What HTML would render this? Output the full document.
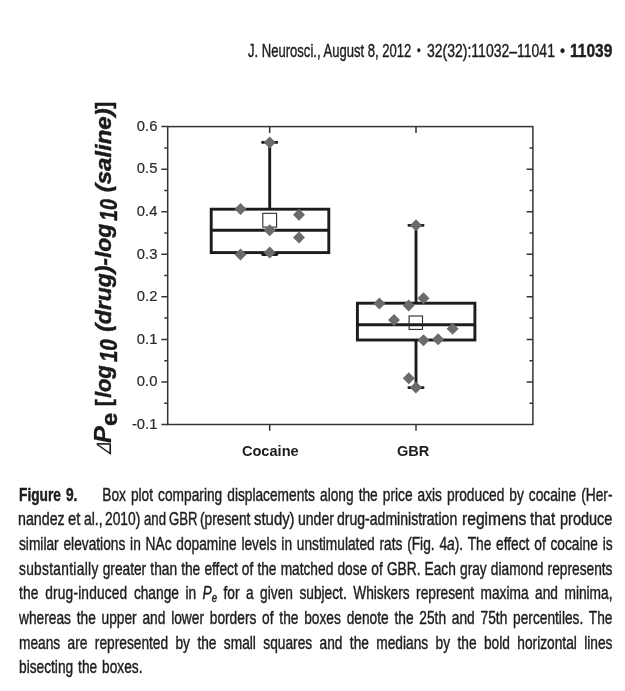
<!DOCTYPE html>
<html lang="en"><head><meta charset="utf-8"><title>Figure 9</title>
<style>
html,body{margin:0;padding:0;background:#fff;}
body{width:625px;height:691px;position:relative;overflow:hidden;will-change:transform;font-family:"Liberation Sans",sans-serif;color:#1d1d1d;}
svg{position:absolute;left:0;top:0;}
svg text{font-family:"Liberation Sans",sans-serif;}
.ln{-webkit-text-stroke:0.42px #1d1d1d;position:absolute;left:18.7px;white-space:nowrap;font-size:17.8px;line-height:0;height:0;transform-origin:0 0;transform:scaleX(0.772);}
.ln b{font-weight:bold;}
.ln .w{position:absolute;top:0;white-space:nowrap;transform-origin:0 0;line-height:0;}
.ln sub{font-size:0.7em;vertical-align:baseline;position:relative;top:0.25em;line-height:0;}
.hd{-webkit-text-stroke:0.4px #1d1d1d;position:absolute;white-space:nowrap;font-size:17.5px;line-height:0;height:0;top:51.2px;transform-origin:0 0;}
</style></head><body>
<div class="hd" id="h1" style="left:248.4px;transform:scaleX(0.746)">J. Neurosci., August 8, 2012</div>
<div class="hd" id="h2" style="left:417.1px;transform:scaleX(0.8);font-size:13px">•</div>
<div class="hd" id="h3" style="left:426.7px;transform:scaleX(0.800)">32(32):11032–11041</div>
<div class="hd" id="h4" style="left:560.0px;transform:scaleX(0.85);font-size:17px">•</div>
<div class="hd" id="h5" style="left:570.4px;transform:scaleX(0.886);font-weight:bold">11039</div>
<svg width="625" height="691" viewBox="0 0 625 691">
<rect x="167.7" y="126.6" width="365.2" height="297.9" fill="none" stroke="#343434" stroke-width="1.5"/>
<path d="M161.4 424.5H167.7 M164.3 403.2H167.7 M529.5 403.2H532.9 M161.4 381.9H167.7 M526.6 381.9H532.9 M164.3 360.7H167.7 M529.5 360.7H532.9 M161.4 339.4H167.7 M526.6 339.4H532.9 M164.3 318.1H167.7 M529.5 318.1H532.9 M161.4 296.8H167.7 M526.6 296.8H532.9 M164.3 275.6H167.7 M529.5 275.6H532.9 M161.4 254.3H167.7 M526.6 254.3H532.9 M164.3 233.0H167.7 M529.5 233.0H532.9 M161.4 211.7H167.7 M526.6 211.7H532.9 M164.3 190.4H167.7 M529.5 190.4H532.9 M161.4 169.2H167.7 M526.6 169.2H532.9 M164.3 147.9H167.7 M529.5 147.9H532.9 M161.4 126.6H167.7 M269.7 424.5V430.8 M269.7 126.6V132.9 M416.0 424.5V430.8 M416.0 126.6V132.9" stroke="#343434" stroke-width="1.5" fill="none"/>
<text x="157.4" y="428.7" text-anchor="end" font-size="14.8" fill="#2b2b2b" stroke="#2b2b2b" stroke-width="0.2">-0.1</text>
<text x="157.4" y="386.1" text-anchor="end" font-size="14.8" fill="#2b2b2b" stroke="#2b2b2b" stroke-width="0.2">0.0</text>
<text x="157.4" y="343.6" text-anchor="end" font-size="14.8" fill="#2b2b2b" stroke="#2b2b2b" stroke-width="0.2">0.1</text>
<text x="157.4" y="301.0" text-anchor="end" font-size="14.8" fill="#2b2b2b" stroke="#2b2b2b" stroke-width="0.2">0.2</text>
<text x="157.4" y="258.5" text-anchor="end" font-size="14.8" fill="#2b2b2b" stroke="#2b2b2b" stroke-width="0.2">0.3</text>
<text x="157.4" y="215.9" text-anchor="end" font-size="14.8" fill="#2b2b2b" stroke="#2b2b2b" stroke-width="0.2">0.4</text>
<text x="157.4" y="173.4" text-anchor="end" font-size="14.8" fill="#2b2b2b" stroke="#2b2b2b" stroke-width="0.2">0.5</text>
<text x="157.4" y="130.8" text-anchor="end" font-size="14.8" fill="#2b2b2b" stroke="#2b2b2b" stroke-width="0.2">0.6</text>
<text x="270.3" y="456.2" text-anchor="middle" font-size="14.6" font-weight="bold" fill="#1e1e1e">Cocaine</text>
<text x="413.2" y="456.2" text-anchor="middle" font-size="14.6" font-weight="bold" fill="#1e1e1e">GBR</text>
<path d="M269.7 142.4V209.2M269.7 252.6V254.6" stroke="#1c1c1c" stroke-width="2.9" fill="none"/>
<path d="M262.5 142.4H276.9M262.5 254.6H276.9" stroke="#1c1c1c" stroke-width="2.7" stroke-linecap="round" fill="none"/>
<rect x="211.2" y="209.2" width="117.6" height="43.4" fill="none" stroke="#1c1c1c" stroke-width="2.9"/>
<path d="M211.2 230.2H328.8" stroke="#1c1c1c" stroke-width="2.9"/>
<rect x="262.8" y="213.3" width="13.8" height="13.8" fill="none" stroke="#2a2a2a" stroke-width="1.1"/>
<path d="M269.7 136.4l6.0 6.0l-6.0 6.0l-6.0 -6.0z M240.5 202.9l6.0 6.0l-6.0 6.0l-6.0 -6.0z M299.0 208.8l6.0 6.0l-6.0 6.0l-6.0 -6.0z M269.7 224.2l6.0 6.0l-6.0 6.0l-6.0 -6.0z M299.0 231.6l6.0 6.0l-6.0 6.0l-6.0 -6.0z M240.5 248.4l6.0 6.0l-6.0 6.0l-6.0 -6.0z M269.7 246.6l6.0 6.0l-6.0 6.0l-6.0 -6.0z" fill="#6b6b6b"/>
<path d="M416.0 225.3V303.2M416.0 340.0V387.6" stroke="#1c1c1c" stroke-width="2.9" fill="none"/>
<path d="M408.8 225.3H423.2M408.8 387.6H423.2" stroke="#1c1c1c" stroke-width="2.7" stroke-linecap="round" fill="none"/>
<rect x="357.4" y="303.2" width="117.5" height="36.8" fill="none" stroke="#1c1c1c" stroke-width="2.9"/>
<path d="M357.4 324.7H474.9" stroke="#1c1c1c" stroke-width="2.9"/>
<rect x="409.1" y="316.0" width="13.4" height="13.4" fill="none" stroke="#2a2a2a" stroke-width="1.1"/>
<path d="M416.0 219.3l6.0 6.0l-6.0 6.0l-6.0 -6.0z M379.4 297.4l6.0 6.0l-6.0 6.0l-6.0 -6.0z M408.6 299.5l6.0 6.0l-6.0 6.0l-6.0 -6.0z M423.5 292.3l6.0 6.0l-6.0 6.0l-6.0 -6.0z M394.0 314.1l6.0 6.0l-6.0 6.0l-6.0 -6.0z M452.6 322.8l6.0 6.0l-6.0 6.0l-6.0 -6.0z M423.5 334.3l6.0 6.0l-6.0 6.0l-6.0 -6.0z M438.1 333.3l6.0 6.0l-6.0 6.0l-6.0 -6.0z M408.8 372.2l6.0 6.0l-6.0 6.0l-6.0 -6.0z M415.9 381.6l6.0 6.0l-6.0 6.0l-6.0 -6.0z" fill="#6b6b6b"/>
<g transform="translate(111,453.6) rotate(-90)" fill="#1a1a1a" stroke="#1a1a1a" stroke-width="0.45" stroke-linejoin="round">
<text transform="translate(-0.60,0) scale(0.875,1) skewX(-12)" stroke-width="0.1" font-size="20.6" font-weight="normal" font-style="italic">Δ</text>
<text transform="translate(10.40,0) scale(1.081,1)" stroke-width="0.15" font-size="23.8" font-weight="bold" font-style="italic">P</text>
<text transform="translate(27.55,6) scale(1.055,1)" font-size="22.5" font-weight="bold" font-style="normal">e</text>
<text transform="translate(47.47,0) scale(0.933,1)" font-size="22.5" font-weight="bold" font-style="normal">[</text>
<text transform="translate(55.50,0) scale(0.973,1)" font-size="22.5" font-weight="bold" font-style="italic">log</text>
<text transform="translate(91.50,6) scale(0.842,1)" font-size="24.5" font-weight="bold" font-style="italic">10</text>
<text transform="translate(121.78,0) scale(1.019,1)" font-size="22.5" font-weight="bold" font-style="italic">(drug)-log</text>
<text transform="translate(232.70,6) scale(0.809,1)" font-size="24.5" font-weight="bold" font-style="italic">10</text>
<text transform="translate(261.34,0) scale(1.065,1)" font-size="22.5" font-weight="bold" font-style="italic">(saline)</text>
<text transform="translate(344.80,0) scale(0.933,1)" font-size="22.5" font-weight="bold" font-style="normal">]</text>
</g>
</svg>
<div class="ln" id="ln0" style="top:494.6px;word-spacing:1.59px"><b style="margin-right:6px">Figure 9.</b>&nbsp;&nbsp;&nbsp;&nbsp;Box plot comparing displacements along the price axis produced by cocaine (Her-</div>
<div class="ln" id="ln1" style="top:519.3px;transform:none"><span class="w" style="left:-0.3px;transform:scaleX(0.800)">nandez</span> <span class="w" style="left:49.5px;transform:scaleX(0.835)">et</span> <span class="w" style="left:64.9px;transform:scaleX(0.779)">al.,</span> <span class="w" style="left:86.4px;transform:scaleX(0.776)">2010)</span> <span class="w" style="left:125.0px;transform:scaleX(0.740)">and</span> <span class="w" style="left:149.9px;transform:scaleX(0.740)">GBR</span> <span class="w" style="left:181.7px;transform:scaleX(0.773)">(present</span> <span class="w" style="left:235.2px;transform:scaleX(0.838)">study)</span> <span class="w" style="left:279.2px;transform:scaleX(0.789)">under</span> <span class="w" style="left:318.5px;transform:scaleX(0.790)">drug-administration</span> <span class="w" style="left:443.5px;transform:scaleX(0.880)">regimens</span> <span class="w" style="left:511.7px;transform:scaleX(0.849)">that</span> <span class="w" style="left:540.9px;transform:scaleX(0.815)">produce</span></div>
<div class="ln" id="ln2" style="top:543.9px;word-spacing:1.29px">similar elevations in NAc dopamine levels in unstimulated rats (Fig. 4<i>a</i>). The effect of cocaine is</div>
<div class="ln" id="ln3" style="top:568.6px;word-spacing:0.41px"><span style="letter-spacing:0.4px">substantially</span> greater than the effect of the matched dose of GBR. Each gray diamond represents</div>
<div class="ln" id="ln4" style="top:593.2px;word-spacing:3.44px"><span style="letter-spacing:0.22px">the drug-induced</span> change in <i>P</i><sub><i>e</i></sub> for a given subject. Whiskers represent maxima and minima,</div>
<div class="ln" id="ln5" style="top:617.9px;word-spacing:2.57px">whereas the upper and lower borders of the boxes denote the 25th and 75th percentiles. The</div>
<div class="ln" id="ln6" style="top:642.5px;word-spacing:4.64px">means are represented by the small squares and the medians by the bold horizontal lines</div>
<div class="ln" id="ln7" style="top:667.2px;word-spacing:1.40px">bisecting the boxes.</div>
</body></html>
